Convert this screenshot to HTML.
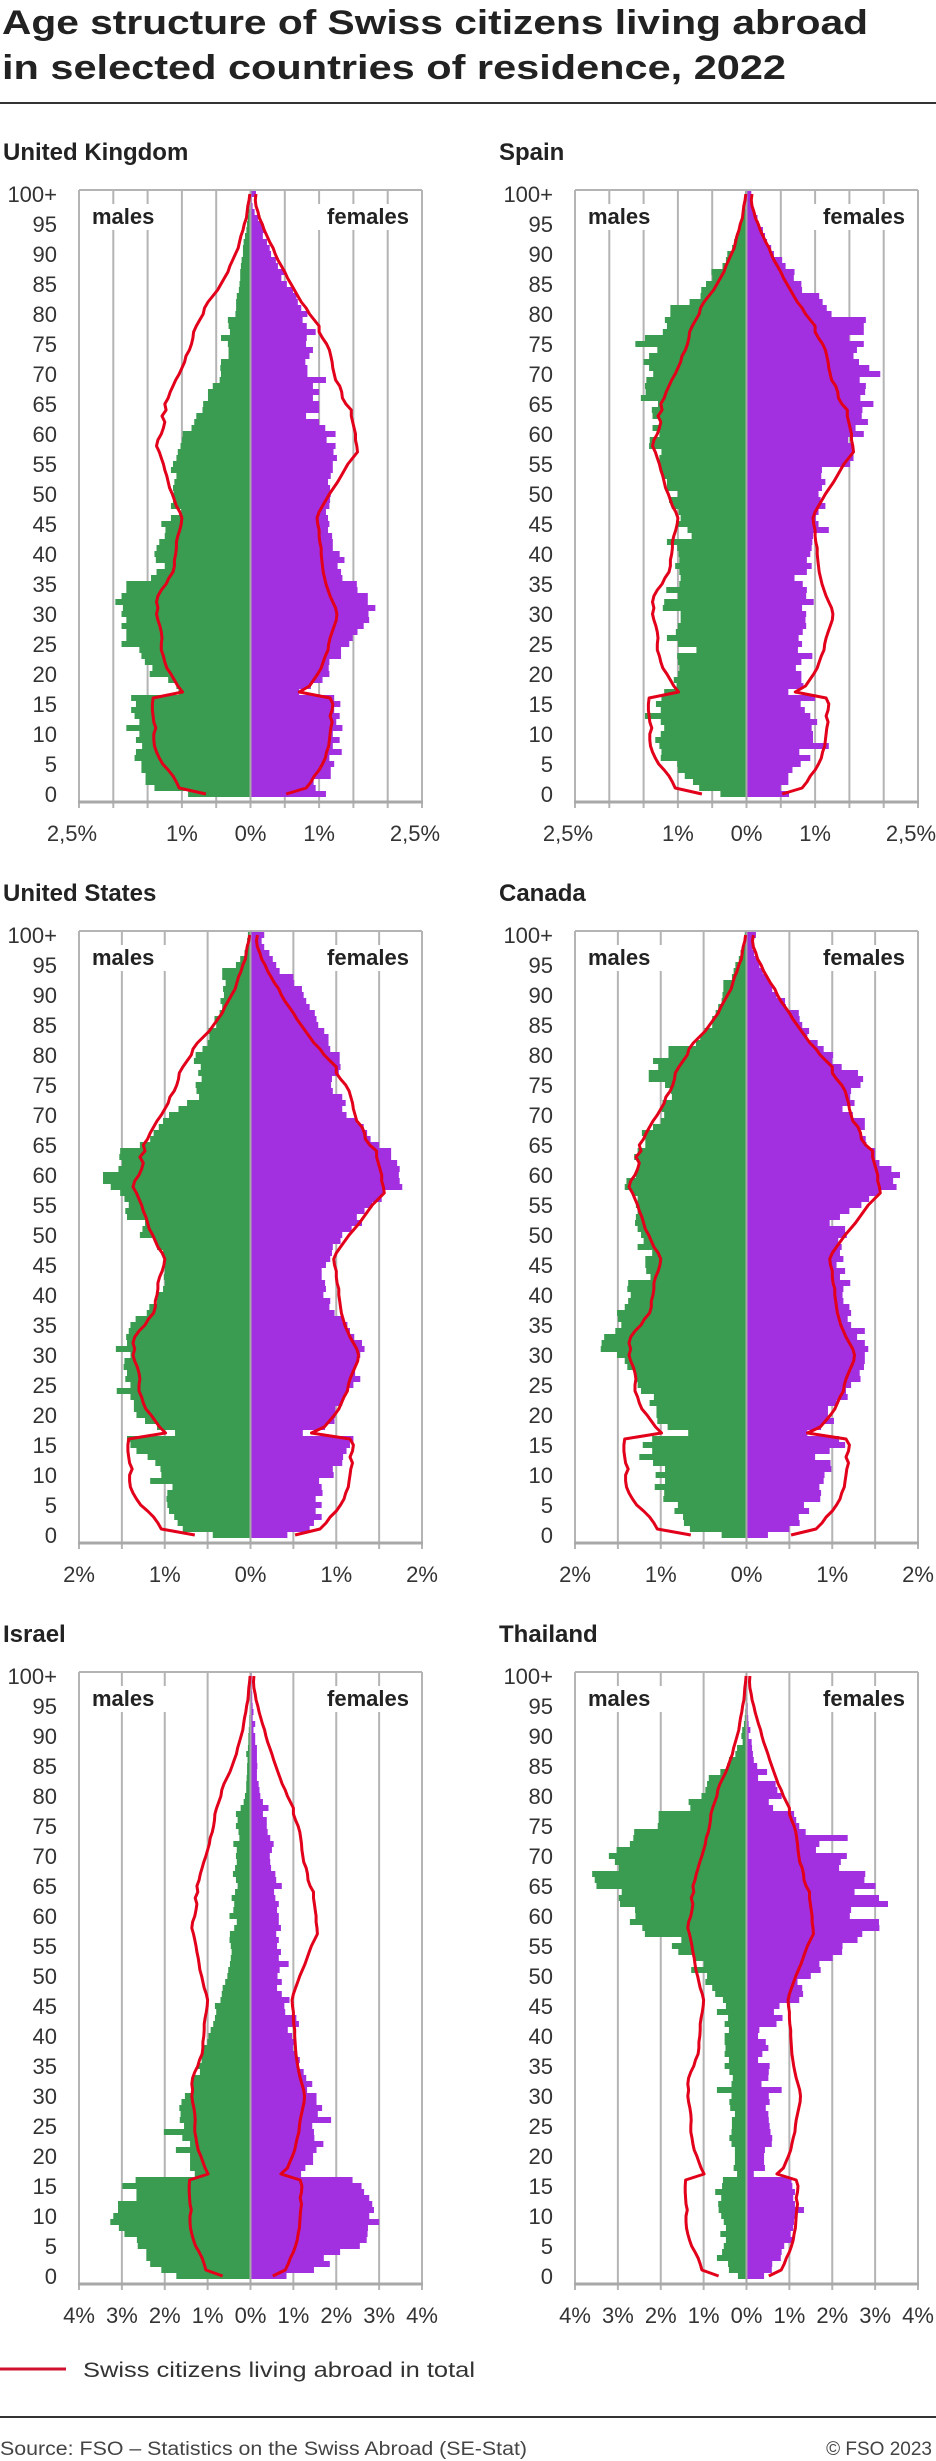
<!DOCTYPE html>
<html><head><meta charset="utf-8">
<style>
html,body{margin:0;padding:0;background:#fff;}
svg{display:block;}
text{font-family:"Liberation Sans",sans-serif;}
</style></head>
<body>
<svg id="chart" width="936" height="2461" viewBox="0 0 936 2461" xmlns="http://www.w3.org/2000/svg">
  <text x="2" y="34" font-size="34" font-weight="bold" fill="#222" textLength="866" lengthAdjust="spacingAndGlyphs">Age structure of Swiss citizens living abroad</text>
  <text x="2" y="79" font-size="34" font-weight="bold" fill="#222" textLength="784" lengthAdjust="spacingAndGlyphs">in selected countries of residence, 2022</text>
  <rect x="0" y="102" width="936" height="2" fill="#333"/>
  <line x1="0" y1="2369" x2="66" y2="2369" stroke="#d0102e" stroke-width="3"/>
  <text x="83" y="2377" font-size="21" fill="#333" textLength="392" lengthAdjust="spacingAndGlyphs">Swiss citizens living abroad in total</text>
  <rect x="0" y="2416" width="936" height="2" fill="#333"/>
  <text x="0" y="2455" font-size="19" fill="#444" textLength="527" lengthAdjust="spacingAndGlyphs">Source: FSO – Statistics on the Swiss Abroad (SE-Stat)</text>
  <text x="932" y="2455" font-size="19" fill="#444" text-anchor="end">© FSO 2023</text>
  <g id="panels"></g>
</svg>
<script>
const ageTickLabels = ["0","5","10","15","20","25","30","35","40","45","50","55","60","65","70","75","80","85","90","95","100+"];
const countryNames = ["United Kingdom","Spain","United States","Canada","Israel","Thailand"];
const axisMaxima = [2.5,2.5,2,2,4,4];
const gridSteps = [0.5,0.5,0.5,0.5,1,1];
const tickValuesUK = [2.5,1,0,1,2.5];
const tickLabelsUK = ["2,5%","1%","0%","1%","2,5%"];
const tickValuesUS = [2,1,0,1,2];
const tickLabelsUS = ["2%","1%","0%","1%","2%"];
const tickValuesIL = [4,3,2,1,0,1,2,3,4];
const tickLabelsIL = ["4%","3%","2%","1%","0%","1%","2%","3%","4%"];

const totalMales = [0.65,1.04,1.08,1.13,1.20,1.28,1.33,1.37,1.40,1.41,1.41,1.38,1.41,1.42,1.43,1.43,1.42,0.99,1.06,1.11,1.16,1.22,1.25,1.27,1.30,1.30,1.29,1.30,1.32,1.35,1.37,1.35,1.37,1.35,1.30,1.23,1.19,1.13,1.11,1.11,1.09,1.08,1.08,1.06,1.03,1.01,1.00,1.03,1.08,1.11,1.14,1.18,1.20,1.22,1.25,1.27,1.30,1.33,1.37,1.35,1.30,1.27,1.25,1.29,1.23,1.25,1.20,1.17,1.13,1.09,1.04,1.00,0.96,0.94,0.89,0.86,0.84,0.83,0.79,0.74,0.69,0.67,0.62,0.55,0.48,0.43,0.38,0.33,0.30,0.26,0.22,0.18,0.16,0.14,0.11,0.09,0.06,0.05,0.04,0.02,0.01];
const totalFemales = [0.52,0.81,0.88,0.93,1.00,1.05,1.09,1.11,1.14,1.15,1.16,1.17,1.19,1.16,1.19,1.20,1.16,0.71,0.86,0.92,0.98,1.03,1.06,1.09,1.13,1.14,1.16,1.19,1.22,1.25,1.26,1.24,1.20,1.16,1.13,1.10,1.08,1.06,1.05,1.04,1.03,1.03,1.01,1.00,1.00,0.98,0.97,1.00,1.05,1.10,1.15,1.21,1.27,1.32,1.37,1.42,1.49,1.56,1.55,1.53,1.53,1.51,1.49,1.47,1.47,1.39,1.34,1.33,1.30,1.24,1.22,1.20,1.19,1.17,1.15,1.11,1.05,1.00,1.00,0.93,0.86,0.81,0.74,0.69,0.64,0.59,0.54,0.50,0.45,0.40,0.36,0.33,0.28,0.24,0.20,0.17,0.13,0.11,0.08,0.07,0.08];

const ukMales = [0.91,1.40,1.53,1.53,1.59,1.59,1.69,1.67,1.58,1.67,1.62,1.81,1.62,1.69,1.74,1.67,1.74,1.05,1.08,1.20,1.47,1.43,1.54,1.59,1.62,1.88,1.81,1.81,1.88,1.81,1.88,1.86,1.97,1.88,1.81,1.81,1.45,1.37,1.25,1.38,1.40,1.37,1.33,1.25,1.24,1.30,1.16,1.01,1.16,1.13,1.12,1.13,1.11,1.08,1.16,1.13,1.08,1.06,1.02,1.00,0.99,0.86,0.82,0.79,0.70,0.69,0.62,0.62,0.55,0.45,0.43,0.44,0.43,0.32,0.32,0.33,0.43,0.30,0.32,0.33,0.22,0.21,0.21,0.20,0.17,0.16,0.15,0.15,0.14,0.13,0.11,0.11,0.10,0.08,0.06,0.05,0.04,0.03,0.02,0.01,0.00];
const ukFemales = [1.10,0.95,0.92,1.17,1.17,1.22,1.15,1.33,1.20,1.30,1.20,1.34,1.25,1.30,1.22,1.31,1.22,0.71,0.88,1.05,1.15,1.14,1.15,1.32,1.32,1.44,1.49,1.56,1.65,1.73,1.72,1.82,1.71,1.71,1.56,1.55,1.34,1.32,1.27,1.37,1.30,1.20,1.20,1.19,1.13,1.15,1.13,1.10,1.15,1.16,1.17,1.16,1.13,1.17,1.20,1.20,1.26,1.21,1.24,1.11,1.24,1.09,1.00,0.81,1.00,1.00,0.91,1.00,0.91,1.10,0.83,0.83,0.80,0.86,0.91,0.81,0.82,0.95,0.82,0.76,0.83,0.74,0.69,0.67,0.62,0.53,0.45,0.51,0.40,0.37,0.30,0.28,0.24,0.18,0.20,0.16,0.11,0.06,0.03,0.02,0.08];
const esMales = [0.38,0.69,0.78,0.90,1.00,1.01,1.25,1.24,1.27,1.33,1.25,1.20,1.25,1.48,1.25,1.32,1.24,1.20,1.02,1.06,1.00,0.98,1.00,1.01,0.73,1.00,1.16,1.03,1.00,0.96,0.96,1.22,1.20,1.00,1.17,0.98,0.96,0.98,1.04,0.98,0.99,1.01,1.16,0.80,0.86,1.00,0.96,0.99,1.09,1.13,1.00,1.16,1.16,1.23,1.24,1.27,1.27,1.24,1.42,1.41,1.27,1.37,1.25,1.37,1.38,1.29,1.54,1.47,1.48,1.46,1.36,1.42,1.50,1.42,1.30,1.62,1.48,1.22,1.16,1.19,1.11,1.11,0.83,0.67,0.66,0.59,0.50,0.51,0.35,0.30,0.28,0.21,0.18,0.15,0.11,0.09,0.06,0.04,0.02,0.01,0.02];
const esFemales = [0.62,0.50,0.61,0.61,0.67,0.79,0.93,0.77,1.20,0.97,0.97,0.95,1.03,0.93,0.85,0.79,1.00,0.61,0.83,0.80,0.80,0.72,0.80,0.96,0.75,0.81,0.76,0.82,0.87,0.86,0.87,0.81,0.98,0.87,0.88,0.82,0.70,0.88,0.95,0.88,0.93,0.95,0.96,0.97,1.20,1.05,1.01,1.05,1.15,1.08,1.05,1.10,1.15,1.09,1.10,1.51,1.56,1.56,1.55,1.48,1.71,1.59,1.77,1.68,1.69,1.85,1.66,1.73,1.74,1.65,1.95,1.79,1.64,1.56,1.61,1.71,1.50,1.71,1.71,1.74,1.24,1.17,1.11,1.06,0.81,0.80,0.69,0.70,0.57,0.52,0.40,0.36,0.30,0.27,0.24,0.18,0.16,0.11,0.08,0.06,0.07];
const usMales = [0.44,0.79,0.85,0.89,0.95,0.97,0.98,0.97,0.91,1.17,1.04,1.05,1.11,1.20,1.33,1.40,1.44,0.88,1.09,1.23,1.33,1.36,1.36,1.40,1.56,1.40,1.46,1.44,1.48,1.47,1.40,1.57,1.44,1.45,1.42,1.40,1.34,1.21,1.18,1.09,1.08,1.02,1.00,1.01,1.00,1.02,1.01,1.02,1.09,1.11,1.29,1.26,1.23,1.44,1.46,1.42,1.47,1.52,1.63,1.72,1.72,1.54,1.50,1.53,1.52,1.29,1.17,1.13,1.07,1.02,0.95,0.84,0.74,0.60,0.63,0.64,0.57,0.61,0.58,0.66,0.64,0.56,0.50,0.48,0.49,0.40,0.42,0.36,0.33,0.35,0.31,0.32,0.29,0.33,0.33,0.17,0.12,0.07,0.05,0.04,0.03];
const usFemales = [0.43,0.69,0.74,0.83,0.76,0.83,0.76,0.84,0.83,0.80,0.97,0.96,1.07,1.08,1.12,1.16,1.20,0.61,0.87,0.98,0.99,0.99,1.07,1.09,1.13,1.20,1.28,1.22,1.22,1.24,1.28,1.33,1.30,1.21,1.16,1.13,1.07,0.98,0.92,0.93,0.85,0.88,0.87,0.83,0.83,0.88,0.93,0.95,0.96,1.05,1.07,1.18,1.30,1.24,1.33,1.42,1.53,1.55,1.77,1.74,1.73,1.74,1.71,1.64,1.64,1.50,1.40,1.36,1.32,1.24,1.12,1.07,1.11,1.07,0.96,0.94,0.95,1.03,1.05,1.04,1.04,0.93,0.91,0.91,0.86,0.79,0.77,0.75,0.69,0.65,0.62,0.60,0.51,0.50,0.34,0.30,0.26,0.22,0.16,0.13,0.16];
const caMales = [0.29,0.66,0.73,0.74,0.84,0.80,0.97,0.96,1.07,0.95,1.06,0.95,1.09,1.25,1.10,1.21,1.10,0.68,0.92,1.04,1.05,1.05,1.13,1.08,1.23,1.27,1.29,1.30,1.39,1.42,1.51,1.70,1.69,1.66,1.53,1.46,1.50,1.51,1.42,1.38,1.35,1.39,1.38,1.12,1.17,1.18,1.18,1.10,1.27,1.20,1.23,1.27,1.30,1.29,1.27,1.29,1.27,1.33,1.42,1.40,1.29,1.27,1.27,1.31,1.27,1.18,1.18,1.22,1.09,1.00,0.96,0.99,0.98,0.87,0.88,0.95,1.14,1.14,1.03,1.09,0.91,0.91,0.59,0.54,0.49,0.40,0.40,0.36,0.33,0.29,0.28,0.27,0.27,0.17,0.15,0.13,0.09,0.07,0.04,0.03,0.02];
const caFemales = [0.25,0.50,0.62,0.61,0.73,0.67,0.86,0.87,0.85,0.90,0.91,0.99,0.98,0.80,0.97,1.15,1.08,0.71,0.87,1.02,0.95,0.95,1.05,1.18,1.16,1.22,1.33,1.32,1.37,1.38,1.38,1.42,1.38,1.29,1.38,1.22,1.18,1.22,1.20,1.13,1.12,1.13,1.21,1.09,1.15,1.05,1.13,1.09,1.11,1.07,1.17,1.15,0.97,1.09,1.20,1.34,1.43,1.54,1.75,1.71,1.79,1.69,1.55,1.50,1.50,1.40,1.39,1.32,1.38,1.38,1.24,1.12,1.26,1.21,1.22,1.33,1.36,1.30,1.11,1.00,1.01,0.90,0.83,0.71,0.73,0.65,0.62,0.61,0.46,0.45,0.35,0.30,0.28,0.24,0.19,0.15,0.13,0.09,0.07,0.06,0.11];
const ilMales = [1.73,2.08,2.34,2.43,2.43,2.63,2.65,2.94,3.07,3.27,3.20,3.09,3.09,2.66,2.66,2.99,2.68,1.30,1.41,1.41,1.41,1.74,1.41,1.59,2.02,1.55,1.65,1.63,1.66,1.61,1.53,1.38,1.38,1.34,1.18,1.24,1.14,1.12,1.14,1.01,0.98,0.93,0.87,0.83,0.80,0.83,0.70,0.67,0.65,0.59,0.54,0.52,0.48,0.46,0.44,0.46,0.49,0.48,0.38,0.32,0.49,0.40,0.38,0.44,0.36,0.30,0.34,0.41,0.36,0.32,0.34,0.32,0.40,0.26,0.28,0.34,0.30,0.34,0.23,0.16,0.13,0.10,0.10,0.09,0.08,0.08,0.07,0.10,0.06,0.05,0.05,0.04,0.03,0.03,0.02,0.02,0.01,0.01,0.01,0.00,0.01];
const ilFemales = [0.84,1.48,1.85,1.71,2.09,2.55,2.71,2.73,2.74,3.00,2.77,2.88,2.84,2.77,2.65,2.59,2.38,1.18,1.28,1.46,1.46,1.54,1.70,1.49,1.48,1.44,1.88,1.57,1.67,1.54,1.54,1.32,1.44,1.30,1.24,1.13,1.15,1.09,0.99,1.05,0.97,0.87,1.13,1.07,0.81,0.79,0.91,0.73,0.62,0.73,0.63,0.68,0.89,0.66,0.71,0.62,0.66,0.60,0.71,0.66,0.66,0.62,0.66,0.58,0.55,0.73,0.60,0.58,0.48,0.46,0.45,0.50,0.54,0.46,0.40,0.38,0.38,0.29,0.42,0.29,0.23,0.21,0.19,0.15,0.15,0.16,0.15,0.15,0.15,0.11,0.11,0.07,0.11,0.05,0.07,0.05,0.04,0.04,0.03,0.03,0.03];
const thMales = [0.20,0.41,0.43,0.69,0.57,0.53,0.48,0.61,0.48,0.53,0.59,0.65,0.66,0.59,0.73,0.57,0.55,0.22,0.30,0.27,0.27,0.27,0.35,0.40,0.35,0.34,0.34,0.27,0.38,0.40,0.35,0.69,0.35,0.32,0.40,0.51,0.41,0.51,0.49,0.51,0.51,0.41,0.51,0.43,0.69,0.48,0.55,0.73,0.80,0.96,0.92,1.29,1.00,1.20,1.59,1.74,1.52,2.37,2.43,2.72,2.59,2.60,2.95,2.98,2.91,3.50,3.54,3.60,2.98,3.07,3.21,3.03,2.72,2.64,2.62,2.07,2.05,2.05,1.31,1.35,1.05,0.96,0.92,0.88,0.61,0.45,0.41,0.26,0.22,0.09,0.12,0.10,0.06,0.04,0.03,0.02,0.02,0.01,0.01,0.00,0.00];
const thFemales = [0.41,0.59,0.60,0.80,0.82,0.88,1.11,1.03,1.09,1.11,1.13,1.34,1.13,1.09,1.13,1.07,1.05,0.17,0.43,0.41,0.41,0.43,0.59,0.60,0.56,0.54,0.52,0.51,0.45,0.54,0.52,0.82,0.35,0.51,0.52,0.54,0.27,0.37,0.51,0.45,0.27,0.30,0.70,0.84,0.64,0.77,1.23,1.32,1.30,1.19,1.50,1.73,1.70,2.01,2.23,2.24,2.59,2.70,3.10,3.09,2.41,2.44,3.30,3.09,2.52,3.01,2.75,2.77,2.16,2.20,2.34,1.62,1.70,2.36,1.38,1.23,1.16,1.11,0.62,0.52,0.82,0.72,0.68,0.27,0.48,0.25,0.17,0.15,0.13,0.12,0.05,0.09,0.05,0.04,0.03,0.03,0.02,0.02,0.01,0.01,0.01];

const maleSeries = [ukMales, esMales, usMales, caMales, ilMales, thMales];
const femaleSeries = [ukFemales, esFemales, usFemales, caFemales, ilFemales, thFemales];
const tickValueSets = [tickValuesUK, tickValuesUK, tickValuesUS, tickValuesUS, tickValuesIL, tickValuesIL];
const tickLabelSets = [tickLabelsUK, tickLabelsUK, tickLabelsUS, tickLabelsUS, tickLabelsIL, tickLabelsIL];

const NS = "http://www.w3.org/2000/svg";
const root = document.getElementById("panels");
const GREEN = "#3a9c50", PURPLE = "#a22fe0", RED = "#e2001a", GRID = "#b4b4b4";

function mk(tag, attrs, parent) {
  const el = document.createElementNS(NS, tag);
  for (const k in attrs) el.setAttribute(k, attrs[k]);
  parent.appendChild(el);
  return el;
}

for (let p = 0; p < 6; p++) {
  const col = p % 2, row = Math.floor(p / 2);
  const off = col * 496;
  const top = 190 + row * 741;
  const axisY = top + 612;
  const cx = off + 250.5, half = 171.5;
  const maxV = axisMaxima[p];
  const xScale = v => v / maxV * half;
  const yBarBottom = a => axisY - 5 - 6 * a;
  const yCenter = a => axisY - 8 - 6 * a;

  const g = mk("g", {}, root);
  
  

  const title = mk("text", {x: off + 3, y: top - 30, "font-size": 24, "font-weight": "bold", fill: "#222"}, g);
  title.textContent = countryNames[p];
  
  

  const steps = Math.round(maxV / gridSteps[p]);
  for (let i = -steps; i <= steps; i++) {
    const x = cx + xScale(i * gridSteps[p]);
    const gl = mk("line", {x1: x, y1: top, x2: x, y2: axisY + 6, stroke: GRID, "stroke-width": 2}, g);
    
    
  }
  const topLine = mk("line", {x1: cx - half, y1: top, x2: cx + half, y2: top, stroke: GRID, "stroke-width": 2}, g);
  
  

  const mBox = mk("rect", {x: off + 88, y: top + 14, width: 78, height: 26, fill: "#fff"}, g);
  
  
  const fBox = mk("rect", {x: off + 318, y: top + 14, width: 96, height: 26, fill: "#fff"}, g);
  
  
  const ml = mk("text", {x: off + 92, y: top + 34, "font-size": 22, "font-weight": "bold", fill: "#222"}, g);
  ml.textContent = "males";
  
  
  const fl = mk("text", {x: off + 409, y: top + 34, "font-size": 22, "font-weight": "bold", fill: "#222", "text-anchor": "end"}, g);
  fl.textContent = "females";
  
  

  const ms = maleSeries[p], fs = femaleSeries[p];
  for (let a = 0; a < ms.length; a++) {
    const w = xScale(ms[a]);
    const b = mk("rect", {x: cx - w, y: yBarBottom(a) - 6, width: w, height: 6, fill: GREEN}, g);
    
    
  }
  for (let a = 0; a < fs.length; a++) {
    const w = xScale(fs[a]);
    const b = mk("rect", {x: cx, y: yBarBottom(a) - 6, width: w, height: 6, fill: PURPLE}, g);
    
    
  }
  const cl = mk("line", {x1: cx, y1: top, x2: cx, y2: axisY, stroke: "#a8a8a8", "stroke-width": 2}, g);
  
  

  const mPts = totalMales.map((v, a) => (cx - xScale(v)).toFixed(1) + "," + yCenter(a)).join(" ");
  const fPts = totalFemales.map((v, a) => (cx + xScale(v)).toFixed(1) + "," + yCenter(a)).join(" ");
  const lm = mk("polyline", {points: mPts, fill: "none", stroke: RED, "stroke-width": 3, "stroke-linejoin": "round"}, g);
  
  
  const lf = mk("polyline", {points: fPts, fill: "none", stroke: RED, "stroke-width": 3, "stroke-linejoin": "round"}, g);
  
  

  const lfr = mk("line", {x1: cx - half, y1: top, x2: cx - half, y2: axisY + 6, stroke: GRID, "stroke-width": 2}, g);
  
  
  const rfr = mk("line", {x1: cx + half, y1: top, x2: cx + half, y2: axisY + 6, stroke: GRID, "stroke-width": 2}, g);
  
  
  const ax = mk("line", {x1: cx - half - 1, y1: axisY, x2: cx + half + 1, y2: axisY, stroke: "#a8a8a8", "stroke-width": 3}, g);
  
  

  for (let i = 0; i < ageTickLabels.length; i++) {
    const t = mk("text", {x: off + 57, y: yCenter(i * 5) + 8, "font-size": 22, fill: "#333", "text-anchor": "end"}, g);
    t.textContent = ageTickLabels[i];
    
    
  }
  const tv = tickValueSets[p], tl = tickLabelSets[p];
  const mid = Math.floor(tv.length / 2);
  for (let i = 0; i < tv.length; i++) {
    const sign = i < mid ? -1 : 1;
    let x = cx + sign * xScale(tv[i]);
    if (Math.abs(tv[i]) === 2.5) x -= 7;
    const t = mk("text", {x: x, y: axisY + 39, "font-size": 22, fill: "#333", "text-anchor": "middle"}, g);
    t.textContent = tl[i];
    
    
  }
}
</script>
</body></html>
